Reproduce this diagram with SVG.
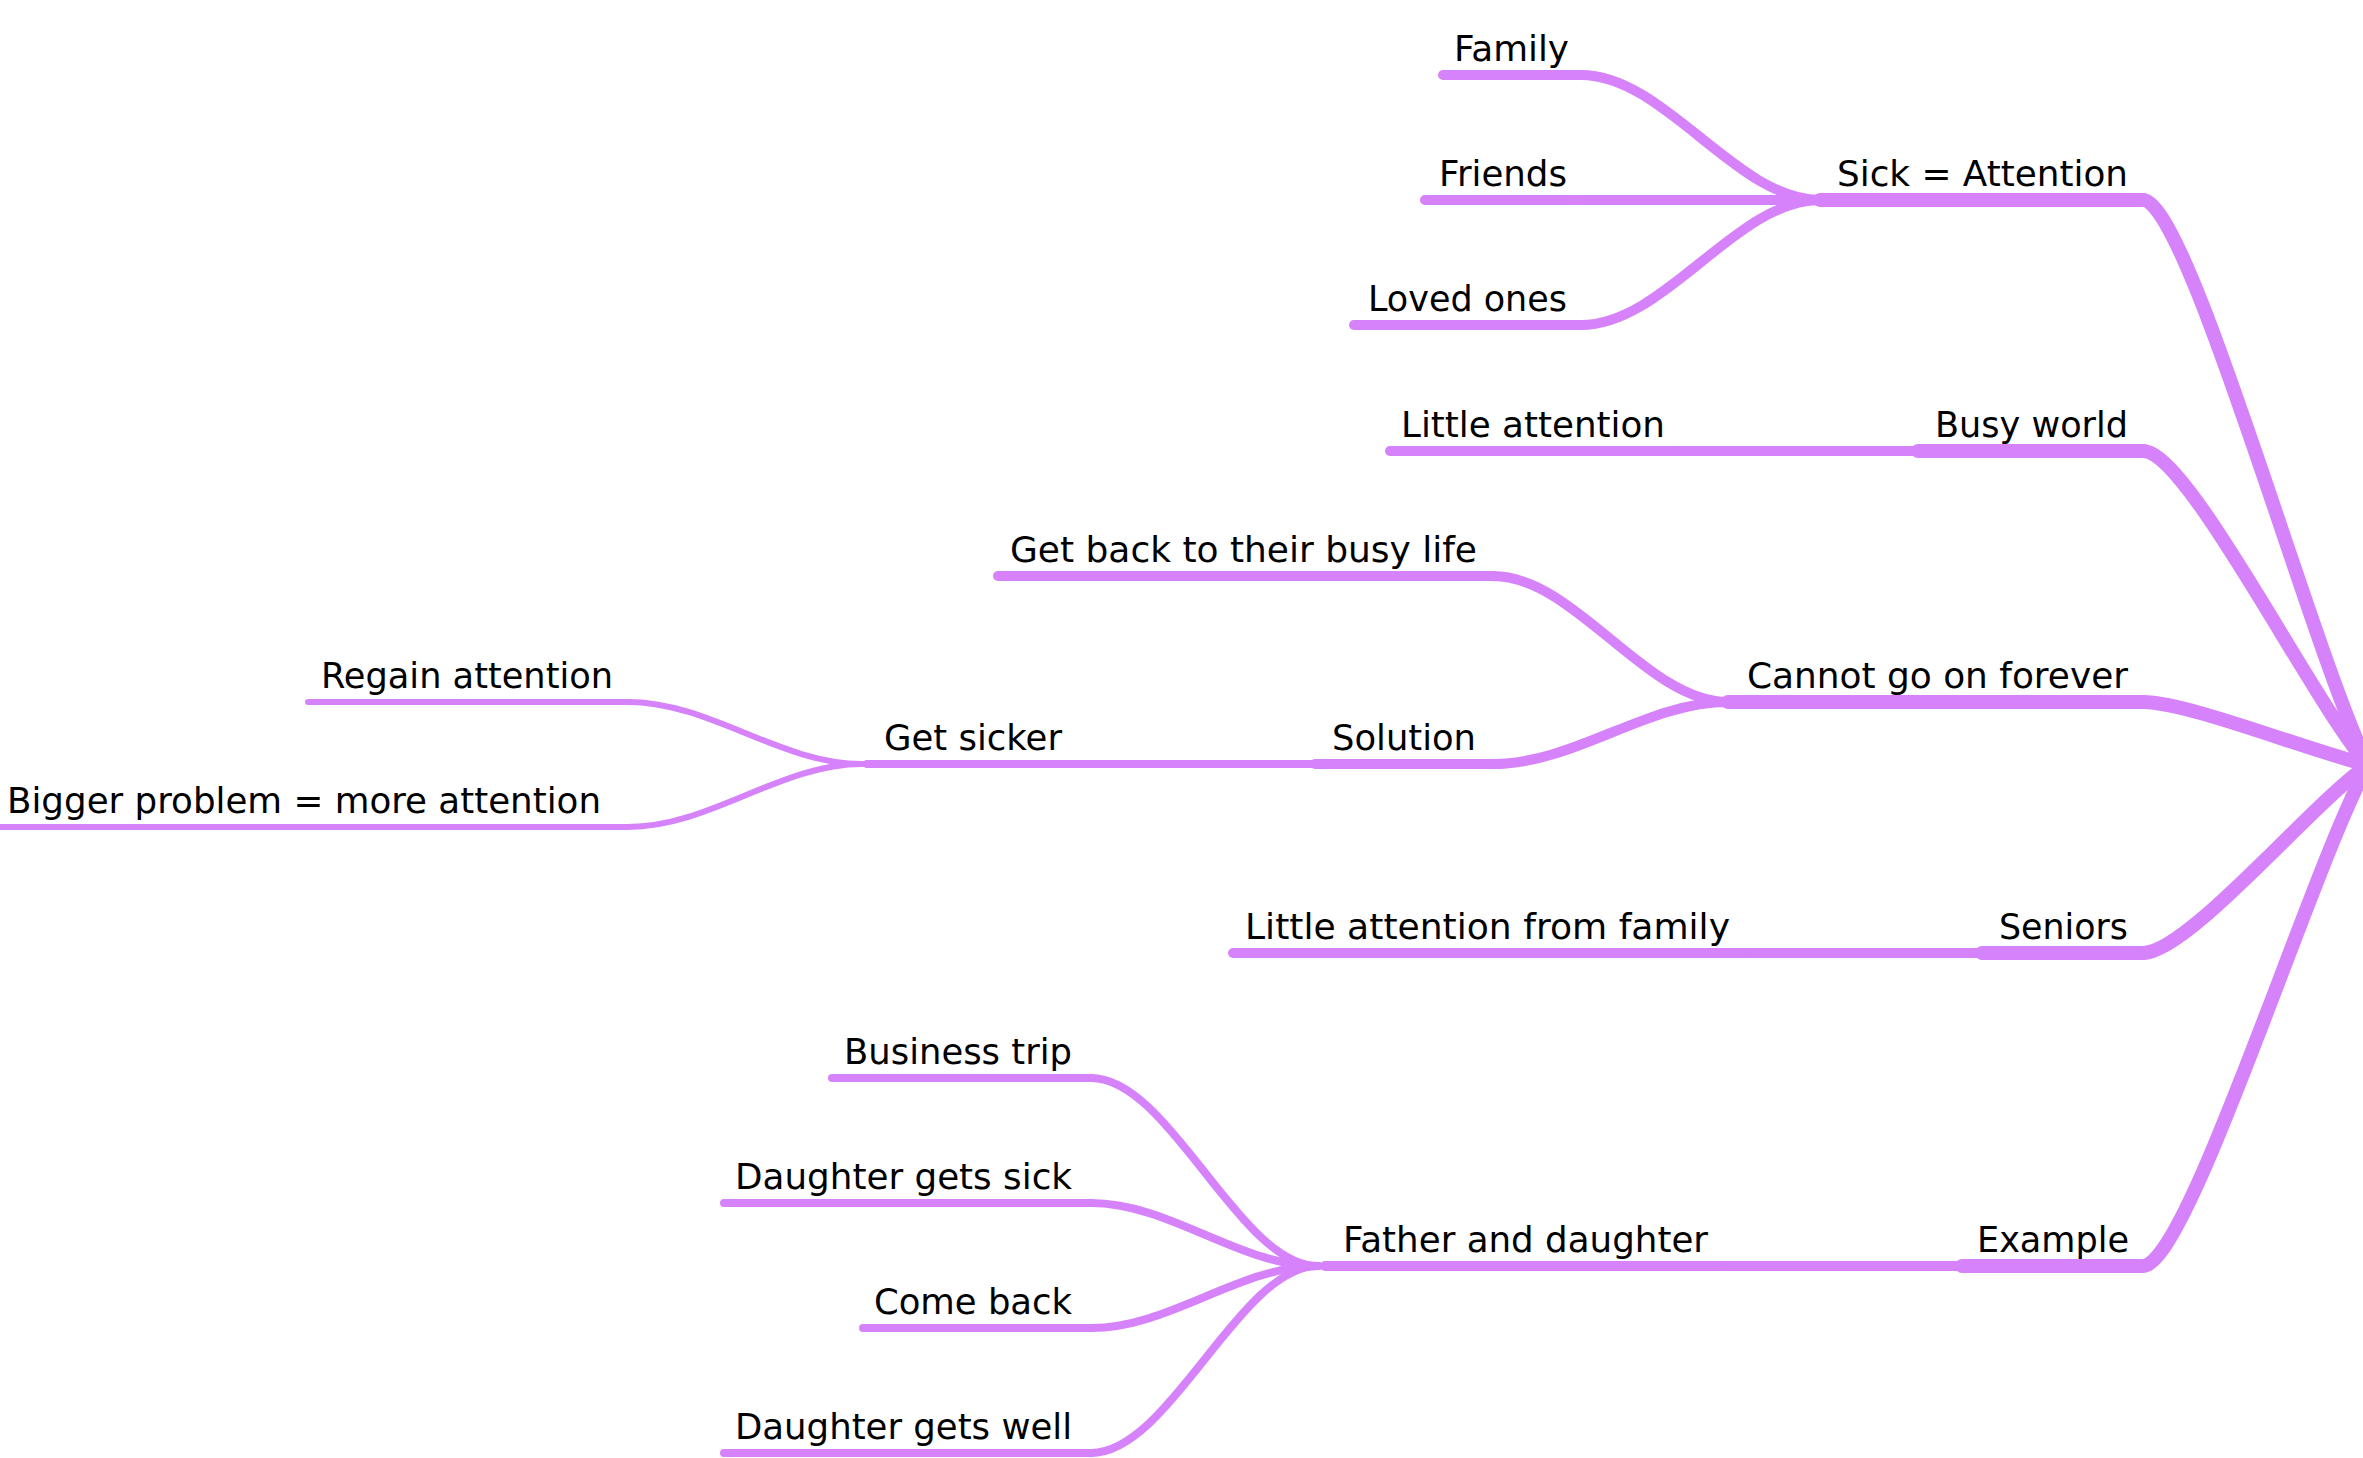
<svg xmlns="http://www.w3.org/2000/svg" width="2363" height="1458" viewBox="0 0 2363 1458">
<style>
  .ln { fill: none; stroke: #D682FA; stroke-linecap: round; stroke-linejoin: round; }
  .w1 { stroke-width: 14; }
  .w2 { stroke-width: 10; }
  .w3 { stroke-width: 8; }
  .w4 { stroke-width: 6; }
  text { font-family: "DejaVu Sans", Verdana, sans-serif; font-size: 36px; fill: #000; }
</style>
<rect width="2363" height="1458" fill="#fff"/>
<g id="connectors">
  <path class="ln w1" d="M2143,200 C2188,200 2312,652 2368,765"/>
  <path class="ln w1" d="M2143,451 C2188,451 2312,702 2368,765"/>
  <path class="ln w1" d="M2143,702 C2188,702 2312,752 2368,765"/>
  <path class="ln w1" d="M2143,953 C2188,953 2312,803 2368,765"/>
  <path class="ln w1" d="M2143,1266 C2188,1266 2312,865 2368,765"/>
  <path class="ln w2" d="M1581,75 C1665,75 1736,200 1820,200"/>
  <path class="ln w2" d="M1581,200 L1820,200"/>
  <path class="ln w2" d="M1581,325 C1665,325 1736,200 1820,200"/>
  <path class="ln w2" d="M1677,451 L1918,451"/>
  <path class="ln w2" d="M1493,576 C1575,576 1646,702 1728,702"/>
  <path class="ln w2" d="M1493,764 C1575,764 1646,702 1728,702"/>
  <path class="ln w2" d="M1745,953 L1982,953"/>
  <path class="ln w2" d="M1722,1266 L1962,1266"/>
  <path class="ln w3" d="M1075,764 L1315,764"/>
  <path class="ln w3" d="M1091,1078 C1170,1078 1239,1266 1318,1266"/>
  <path class="ln w3" d="M1091,1203 C1170,1203 1239,1266 1318,1266"/>
  <path class="ln w3" d="M1091,1328 C1170,1328 1239,1266 1318,1266"/>
  <path class="ln w3" d="M1091,1453 C1170,1453 1239,1266 1318,1266"/>
  <path class="ln w4" d="M628,702 C710,702 780,764 862,764"/>
  <path class="ln w4" d="M628,827 C710,827 780,764 862,764"/>
</g>
<g id="node-sick-attention"><path class="ln w1" d="M1820,200 H2143"/><text x="1837" y="186" textLength="291" lengthAdjust="spacingAndGlyphs">Sick = Attention</text></g>
<g id="node-busy-world"><path class="ln w1" d="M1918,451 H2143"/><text x="1935" y="437" textLength="193" lengthAdjust="spacingAndGlyphs">Busy world</text></g>
<g id="node-cannot-go-on-forever"><path class="ln w1" d="M1728,702 H2143"/><text x="1747" y="688" textLength="381" lengthAdjust="spacingAndGlyphs">Cannot go on forever</text></g>
<g id="node-seniors"><path class="ln w1" d="M1982,953 H2143"/><text x="1999" y="939" textLength="129" lengthAdjust="spacingAndGlyphs">Seniors</text></g>
<g id="node-example"><path class="ln w1" d="M1962,1266 H2143"/><text x="1977" y="1252" textLength="152" lengthAdjust="spacingAndGlyphs">Example</text></g>
<g id="node-family"><path class="ln w2" d="M1443,75 H1581"/><text x="1454" y="61" textLength="115" lengthAdjust="spacingAndGlyphs">Family</text></g>
<g id="node-friends"><path class="ln w2" d="M1425,200 H1581"/><text x="1439" y="186" textLength="128" lengthAdjust="spacingAndGlyphs">Friends</text></g>
<g id="node-loved-ones"><path class="ln w2" d="M1354,325 H1581"/><text x="1368" y="311" textLength="199" lengthAdjust="spacingAndGlyphs">Loved ones</text></g>
<g id="node-little-attention"><path class="ln w2" d="M1390,451 H1677"/><text x="1401" y="437" textLength="264" lengthAdjust="spacingAndGlyphs">Little attention</text></g>
<g id="node-get-back"><path class="ln w2" d="M998,576 H1493"/><text x="1010" y="562" textLength="467" lengthAdjust="spacingAndGlyphs">Get back to their busy life</text></g>
<g id="node-solution"><path class="ln w2" d="M1315,764 H1493"/><text x="1332" y="750" textLength="144" lengthAdjust="spacingAndGlyphs">Solution</text></g>
<g id="node-little-attention-family"><path class="ln w2" d="M1233,953 H1745"/><text x="1245" y="939" textLength="485" lengthAdjust="spacingAndGlyphs">Little attention from family</text></g>
<g id="node-father-daughter"><path class="ln w2" d="M1325,1266 H1722"/><text x="1343" y="1252" textLength="365" lengthAdjust="spacingAndGlyphs">Father and daughter</text></g>
<g id="node-get-sicker"><path class="ln w3" d="M867,764 H1075"/><text x="884" y="750" textLength="178" lengthAdjust="spacingAndGlyphs">Get sicker</text></g>
<g id="node-business-trip"><path class="ln w3" d="M832,1078 H1091"/><text x="844" y="1064" textLength="228" lengthAdjust="spacingAndGlyphs">Business trip</text></g>
<g id="node-daughter-sick"><path class="ln w3" d="M724,1203 H1091"/><text x="735" y="1189" textLength="337" lengthAdjust="spacingAndGlyphs">Daughter gets sick</text></g>
<g id="node-come-back"><path class="ln w3" d="M863,1328 H1091"/><text x="874" y="1314" textLength="198" lengthAdjust="spacingAndGlyphs">Come back</text></g>
<g id="node-daughter-well"><path class="ln w3" d="M724,1453 H1091"/><text x="735" y="1439" textLength="337" lengthAdjust="spacingAndGlyphs">Daughter gets well</text></g>
<g id="node-regain-attention"><path class="ln w4" d="M308,702 H628"/><text x="321" y="688" textLength="292" lengthAdjust="spacingAndGlyphs">Regain attention</text></g>
<g id="node-bigger-problem"><path class="ln w4" d="M-10,827 H628"/><text x="7" y="813" textLength="594" lengthAdjust="spacingAndGlyphs">Bigger problem = more attention</text></g>
</svg>
